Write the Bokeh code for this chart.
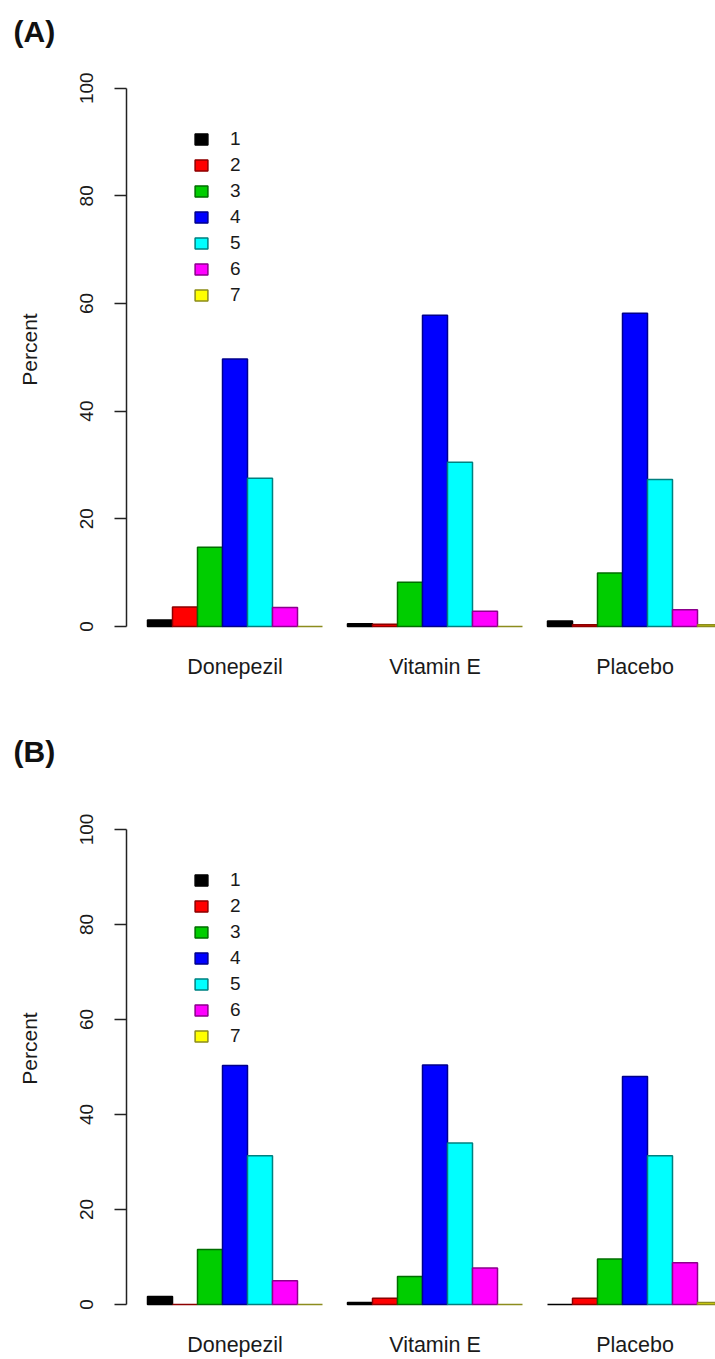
from bokeh.plotting import figure
from bokeh.models import Range1d, FixedTicker, Legend, LegendItem, ColumnDataSource
from bokeh.layouts import column
from bokeh.embed import file_html
from bokeh.resources import INLINE

# ---------------- data ----------------
categories = ["Donepezil", "Vitamin E", "Placebo"]
levels = ["1", "2", "3", "4", "5", "6", "7"]
fill_colors = ["#000000", "#FF0000", "#00CD00", "#0000FF", "#00FFFF", "#FF00FF", "#FFFF00"]
edge_colors = ["#000000", "#8C0000", "#006E00", "#00008C", "#008080", "#8C008C", "#8C8C1E"]
y_ticks = [0, 20, 40, 60, 80, 100]

# percent per level (rows) for Donepezil, Vitamin E, Placebo (columns)
panel_a_values = [
    [1.2, 0.5, 1.0],
    [3.6, 0.4, 0.3],
    [14.7, 8.2, 9.9],
    [49.7, 57.8, 58.2],
    [27.5, 30.5, 27.3],
    [3.5, 2.8, 3.1],
    [0.0, 0.0, 0.3],
]
panel_b_values = [
    [1.7, 0.4, 0.0],
    [0.0, 1.3, 1.3],
    [11.6, 5.9, 9.6],
    [50.3, 50.4, 48.0],
    [31.3, 34.0, 31.3],
    [5.0, 7.7, 8.8],
    [0.0, 0.0, 0.4],
]

FONT = "Liberation Sans"
TEXT = "#1a1a1a"
n_lev = len(levels)
group_step = n_lev + 1  # one empty bar-width between groups
centers = [1 + g * group_step + n_lev / 2 for g in range(len(categories))]


def make_panel(title, values, y_start, y_end, height, top, bottom, legend_y):
    p = figure(width=715, height=height, output_backend="svg", toolbar_location=None,
               x_range=Range1d(0.16, 23.72), y_range=Range1d(y_start, y_end),
               min_border_left=126, min_border_right=0,
               min_border_top=top, min_border_bottom=bottom)
    p.outline_line_color = None
    p.xgrid.visible = False
    p.ygrid.visible = False
    p.background_fill_color = "white"
    p.border_fill_color = "white"

    p.title.text = title
    p.title.text_font = FONT
    p.title.text_font_size = "30px"
    p.title.text_font_style = "bold"
    p.title.text_color = "#111111"
    p.title.align = "left"
    p.title.offset = -113
    p.title.standoff = 6

    items = []
    for i, lev in enumerate(levels):
        xs = [1 + g * group_step + i + 0.5 for g in range(len(categories))]
        src = ColumnDataSource(dict(x=xs, top=values[i]))
        r = p.vbar(x="x", top="top", bottom=0, width=1.0, source=src,
                   fill_color=fill_colors[i], line_color=edge_colors[i], line_width=1.5)
        items.append(LegendItem(label=lev, renderers=[r]))

    leg = Legend(items=items, location=(67, legend_y), orientation="vertical",
                 glyph_width=16, glyph_height=14, label_standoff=21,
                 label_text_font=FONT, label_text_font_size="19px", label_text_color=TEXT,
                 label_height=26, spacing=0, padding=0, margin=0,
                 border_line_color=None, background_fill_alpha=0)
    p.add_layout(leg)

    ya = p.yaxis[0]
    ya.ticker = FixedTicker(ticks=y_ticks)
    ya.bounds = (0, 100)
    ya.major_label_orientation = "vertical"
    ya.major_label_text_font = FONT
    ya.major_label_text_font_size = "19px"
    ya.major_label_text_color = TEXT
    ya.major_label_standoff = 21
    ya.major_tick_out = 12
    ya.major_tick_in = 0
    ya.minor_tick_out = 0
    ya.minor_tick_in = 0
    ya.axis_line_width = 1.5
    ya.major_tick_line_width = 1.5
    ya.axis_line_color = "#222222"
    ya.major_tick_line_color = "#222222"
    ya.axis_label = "Percent"
    ya.axis_label_text_font = FONT
    ya.axis_label_text_font_size = "21px"
    ya.axis_label_text_font_style = "normal"
    ya.axis_label_text_color = TEXT
    ya.axis_label_standoff = 37

    xa = p.xaxis[0]
    xa.ticker = FixedTicker(ticks=centers)
    xa.major_label_overrides = {c: name for c, name in zip(centers, categories)}
    xa.axis_line_color = None
    xa.major_tick_line_color = None
    xa.minor_tick_line_color = None
    xa.major_tick_out = 0
    xa.major_tick_in = 0
    xa.major_label_text_font = FONT
    xa.major_label_text_font_size = "21.5px"
    xa.major_label_text_color = TEXT
    xa.major_label_standoff = 6
    return p


pa = make_panel("(A)", panel_a_values, -4.11, 107.0, 681, 50, 31, 340)
pb = make_panel("(B)", panel_b_values, -4.63, 112.42, 678, 89, 33, 277)

layout = column(pa, pb, spacing=0)
open("out.html", "w").write(file_html(layout, INLINE))
